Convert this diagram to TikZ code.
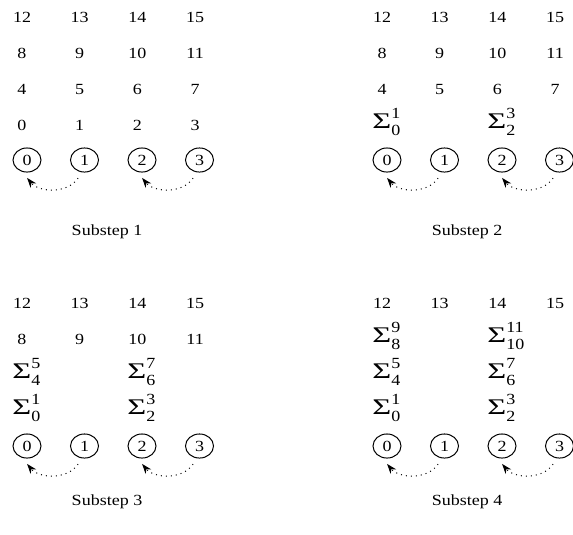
\documentclass[tikz,border=0pt]{standalone}
\usepackage{fontspec}
\setmainfont{Liberation Serif}
\usetikzlibrary{arrows.meta}
\tikzset{
  num/.style={font=\fontsize{9}{10}\selectfont,inner sep=0pt},
  sig/.style={font=\fontsize{9}{10}\selectfont,inner sep=0pt,anchor=base west},
  pe/.style={circle,draw=black,line width=.5pt,minimum size=14pt,inner sep=0pt,
             font=\fontsize{9}{10}\selectfont},
  snd/.style={-{Stealth[length=5pt,width=3.6pt]},dotted,line width=.5pt,
              shorten <=3.5pt,shorten >=4pt,looseness=1.25},
  sublbl/.style={font=\fontsize{9}{10}\selectfont,inner sep=0pt},
}
% a partial sum: big sigma, upper index on top, lower index below
\newcommand{\partsum}[2]{\scalebox{1.25}[1]{\fontsize{13}{13}\selectfont Σ}\rlap{\raisebox{5.8pt}{#2}}\raisebox{-4pt}{#1}}

\begin{document}
\begin{tikzpicture}[x=0.5pt,y=-0.5814pt,yscale=0.86,transform shape]
\useasboundingbox (0,0) rectangle (573,534);
\clip (0,0) rectangle (573,534);
% one panel per substep; \k rows have already been summed
\foreach \p/\px/\py/\k/\cy in {a/0/0/0/232,b/360/0/1/232,c/0/286/2/216,d/360/286/3/216}{
\begin{scope}[shift={(\px,\py)}]
  \foreach \r in {0,...,3}{
    \pgfmathtruncatemacro\ya{125-36*\r}
    \ifnum\r<\k\relax
      % two partial sums in this row
      \pgfmathtruncatemacro\lo{4*\r}\pgfmathtruncatemacro\hi{4*\r+1}
      \node[sig] (\p-s\r0) at (12,\ya+3.5) {\partsum{\lo}{\hi}};
      \pgfmathtruncatemacro\lo{4*\r+2}\pgfmathtruncatemacro\hi{4*\r+3}
      \node[sig] (\p-s\r2) at (127,\ya+3.5) {\partsum{\lo}{\hi}};
    \else
      \foreach \c in {0,...,3}{
        \pgfmathtruncatemacro\v{4*\r+\c}
        \node[num] (\p-n\r\c) at ({22+57.7*\c},\ya) {\v};
      }
    \fi
  }
  % processors
  \foreach \c in {0,...,3}
    \node[pe] (\p\c) at ({27+57.5*\c},160) {\c};
  \draw[snd] (\p1.260) to[out=240,in=-55] (\p0.250);
  \draw[snd] (\p3.260) to[out=240,in=-55] (\p2.250);
  \pgfmathtruncatemacro\s{\k+1}
  \node[sublbl] (\p-cap) at (107,\cy) {Substep \s};
\end{scope}
}
\end{tikzpicture}
\end{document}
